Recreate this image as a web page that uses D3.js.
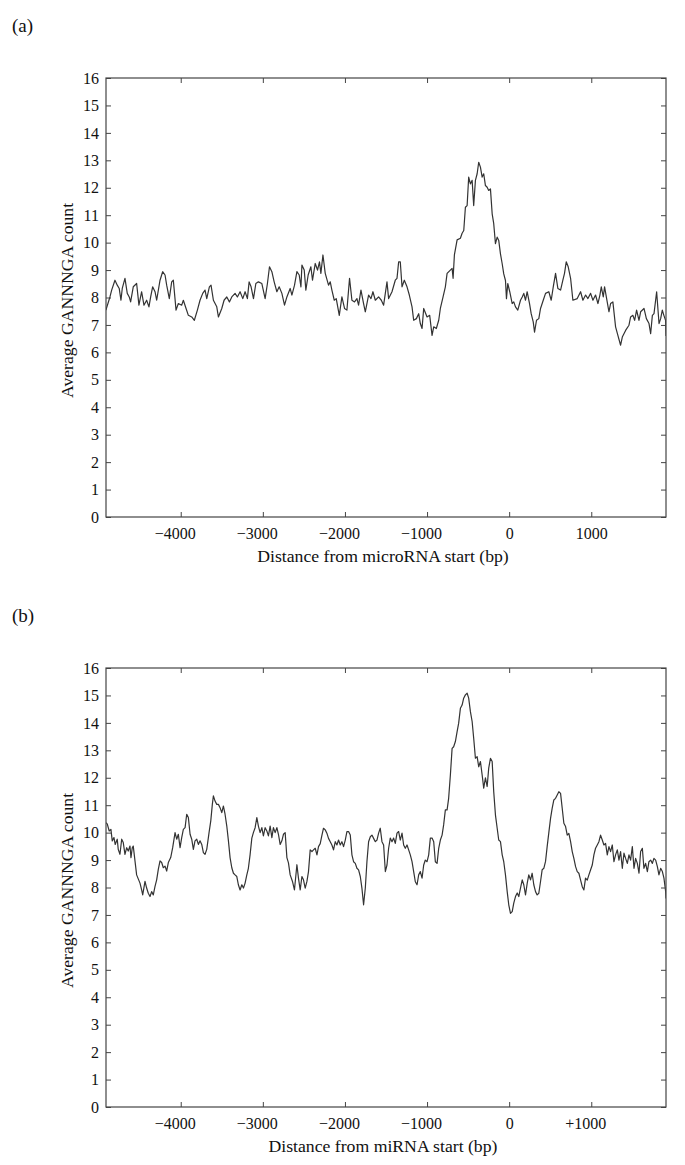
<!DOCTYPE html>
<html><head><meta charset="utf-8">
<script src="https://cdn.jsdelivr.net/npm/d3@7"></script>
<style>
html,body{margin:0;padding:0;background:#fff;}
svg text{font-family:"Liberation Serif","Times New Roman",serif;fill:#111;}
</style></head>
<body>
<svg id="chart" width="685" height="1165"></svg>
<script>
// ---------- data ----------
const xTickValues = [-4000, -3000, -2000, -1000, 0, 1000];
const xTickLabelsA = ["\u22124000", "\u22123000", "\u22122000", "\u22121000", "0", "1000"];
const xTickLabelsB = ["\u22124000", "\u22123000", "\u22122000", "\u22121000", "0", "+1000"];
const yTickValues = [0,1,2,3,4,5,6,7,8,9,10,11,12,13,14,15,16];

const posA = [-4911,-4862,-4841,-4801,-4773,-4749,-4728,-4712,-4679,-4651,-4627,-4610,-4578,-4537,-4509,-4476,-4448,-4415,-4387,-4366,-4342,-4313,-4293,-4252,-4220,-4191,-4171,-4139,-4110,-4090,-4057,-4029,-3988,-3968,-3935,-3907,-3866,-3834,-3797,-3765,-3732,-3704,-3683,-3651,-3631,-3602,-3561,-3541,-3500,-3472,-3439,-3407,-3378,-3338,-3310,-3277,-3244,-3216,-3188,-3167,-3143,-3114,-3085,-3054,-3012,-2972,-2944,-2919,-2890,-2862,-2829,-2801,-2768,-2736,-2707,-2667,-2646,-2614,-2585,-2557,-2536,-2524,-2496,-2476,-2448,-2415,-2395,-2362,-2334,-2310,-2293,-2268,-2240,-2200,-2179,-2159,-2130,-2106,-2069,-2037,-2005,-1976,-1944,-1915,-1883,-1854,-1834,-1805,-1773,-1752,-1712,-1683,-1659,-1630,-1590,-1557,-1529,-1488,-1468,-1427,-1387,-1366,-1346,-1326,-1305,-1277,-1244,-1216,-1183,-1163,-1130,-1102,-1082,-1061,-1041,-1000,-968,-939,-919,-887,-858,-838,-805,-777,-756,-716,-695,-683,-667,-634,-594,-573,-553,-533,-512,-493,-472,-451,-432,-411,-390,-371,-350,-329,-310,-289,-268,-249,-228,-207,-188,-167,-146,-127,-106,-85,-66,-45,-33,-17,7,37,56,77,105,138,159,178,199,219,248,268,293,309,333,361,382,415,443,483,512,537,565,593,626,654,674,695,719,748,776,829,870,898,931,959,992,1020,1052,1081,1105,1122,1146,1162,1187,1215,1235,1263,1296,1324,1357,1378,1418,1459,1479,1507,1528,1552,1581,1601,1642,1671,1703,1723,1744,1764,1796,1825,1845,1865,1884,1905,1910];
const valA = [7.54,8.02,8.27,8.63,8.45,8.33,7.90,8.33,8.70,8.15,8.02,7.84,8.39,8.51,7.72,8.21,7.72,7.90,7.66,8.02,8.39,8.21,7.90,8.63,8.94,8.82,8.45,7.96,8.57,8.63,7.54,7.78,7.72,7.90,7.60,7.35,7.29,7.17,7.54,7.90,8.15,8.27,7.96,8.39,8.45,7.90,7.66,7.29,7.60,7.90,8.02,7.84,8.02,8.15,8.02,8.21,7.96,8.21,7.96,8.57,8.39,7.96,8.51,8.57,8.51,7.96,8.51,9.12,8.94,8.57,8.21,8.39,8.15,7.72,8.02,8.33,8.09,8.45,8.94,8.82,8.39,9.18,9.00,8.27,8.82,9.12,8.63,9.24,9.00,9.30,8.88,9.55,8.88,8.45,8.57,8.27,7.90,7.96,7.35,8.02,7.60,7.54,8.70,7.90,7.84,7.96,7.72,8.27,7.78,7.48,8.09,7.96,8.21,7.90,8.02,7.90,7.72,8.57,7.96,8.21,8.63,8.70,9.30,9.30,8.39,8.63,8.39,8.09,7.66,7.17,7.23,7.41,7.05,6.87,7.60,7.29,7.35,6.62,6.93,6.87,7.17,7.60,8.02,8.39,8.88,9.00,9.06,8.70,9.55,10.10,10.16,10.34,10.44,11.29,11.35,12.39,12.14,12.27,11.35,12.27,12.51,12.93,12.75,12.39,12.51,12.08,12.02,11.90,11.96,11.05,10.69,9.96,10.20,10.08,9.59,9.23,8.86,8.62,7.96,8.51,8.21,7.78,7.84,7.66,7.54,7.90,8.02,8.15,7.90,8.21,7.78,7.41,7.11,6.74,7.17,7.23,7.60,7.90,8.15,8.21,7.90,8.39,8.88,8.33,8.27,8.63,8.88,9.30,9.12,8.70,7.90,7.96,8.21,7.90,8.09,7.96,8.15,7.90,8.09,7.78,8.09,8.39,8.02,8.39,7.96,7.48,7.78,7.84,6.93,6.62,6.26,6.56,6.80,6.99,7.29,7.35,7.17,7.54,7.17,7.48,7.60,7.23,7.05,6.68,7.35,7.41,8.21,7.05,7.23,7.54,7.35,7.17,6.60];

const posB = [-4911,-4895,-4871,-4850,-4834,-4813,-4798,-4773,-4761,-4740,-4719,-4700,-4679,-4658,-4639,-4618,-4606,-4590,-4578,-4557,-4537,-4496,-4476,-4463,-4435,-4415,-4395,-4374,-4354,-4334,-4313,-4293,-4273,-4252,-4232,-4212,-4191,-4171,-4151,-4122,-4098,-4069,-4049,-4029,-4008,-3988,-3968,-3947,-3927,-3907,-3886,-3866,-3846,-3826,-3805,-3785,-3765,-3744,-3724,-3704,-3683,-3655,-3634,-3615,-3602,-3582,-3561,-3541,-3521,-3500,-3480,-3460,-3439,-3419,-3399,-3378,-3358,-3338,-3317,-3298,-3277,-3256,-3236,-3216,-3195,-3176,-3155,-3134,-3115,-3094,-3073,-3054,-3033,-3012,-2993,-2972,-2951,-2932,-2911,-2890,-2871,-2850,-2829,-2810,-2789,-2768,-2749,-2728,-2707,-2688,-2667,-2639,-2615,-2585,-2566,-2545,-2524,-2505,-2484,-2463,-2444,-2423,-2402,-2383,-2362,-2341,-2322,-2301,-2280,-2261,-2240,-2220,-2200,-2179,-2159,-2139,-2118,-2098,-2078,-2057,-2037,-2017,-1996,-1976,-1956,-1935,-1915,-1895,-1874,-1854,-1834,-1813,-1793,-1773,-1752,-1732,-1712,-1691,-1671,-1651,-1630,-1610,-1590,-1570,-1549,-1529,-1508,-1488,-1468,-1448,-1427,-1407,-1387,-1366,-1346,-1326,-1305,-1285,-1265,-1244,-1224,-1204,-1183,-1163,-1143,-1122,-1102,-1082,-1061,-1041,-1021,-1000,-980,-960,-939,-919,-899,-878,-858,-838,-817,-798,-777,-756,-737,-716,-695,-676,-655,-634,-615,-594,-573,-554,-533,-512,-493,-472,-451,-432,-411,-390,-371,-350,-329,-310,-289,-268,-249,-228,-207,-188,-167,-146,-127,-106,-85,-66,-45,-24,-5,16,37,56,77,98,117,138,159,178,199,220,239,260,280,300,321,341,361,382,402,422,443,463,483,504,524,544,565,585,605,626,646,666,687,707,727,748,768,788,809,829,849,870,890,910,930,951,971,991,1012,1032,1052,1073,1093,1113,1134,1154,1174,1195,1215,1235,1256,1276,1296,1317,1337,1357,1378,1398,1418,1439,1459,1479,1500,1520,1540,1561,1581,1601,1622,1641,1662,1683,1702,1723,1744,1763,1784,1805,1824,1845,1866,1885,1906,1910];
const valB = [10.36,10.32,10.06,10.12,9.70,9.82,9.57,9.76,9.39,9.21,9.76,9.64,9.21,9.45,9.33,9.51,9.09,9.45,9.51,8.97,8.46,8.16,7.91,7.73,8.22,7.98,7.79,7.67,7.85,7.73,8.04,8.28,8.66,8.97,8.91,8.72,8.78,8.60,8.91,9.09,9.45,10.00,9.76,9.94,9.45,9.82,10.12,10.18,10.67,10.55,9.94,9.76,9.39,9.70,9.76,9.57,9.70,9.57,9.27,9.21,9.39,10.00,10.43,11.03,11.34,11.15,11.03,11.03,10.91,10.73,10.97,10.67,10.24,9.70,9.09,8.72,8.52,8.46,8.40,8.10,7.91,8.10,7.98,8.16,8.46,8.70,9.20,9.80,10.00,10.18,10.55,10.24,10.00,10.18,9.88,10.18,10.06,9.88,10.24,9.82,10.18,10.00,10.18,9.94,9.57,9.70,9.94,10.00,9.09,8.90,8.46,8.22,7.91,8.83,8.34,7.91,8.40,8.28,7.98,8.22,8.58,9.37,9.31,9.37,9.43,9.19,9.49,9.60,9.91,10.16,10.10,9.98,9.79,9.67,9.55,9.37,9.67,9.55,9.73,9.55,9.67,9.49,9.73,10.04,10.04,9.91,9.19,8.94,8.88,8.70,8.64,8.40,7.97,7.37,7.98,8.95,9.67,9.85,9.91,9.79,9.67,9.73,9.98,10.16,9.67,9.55,8.58,8.82,9.43,9.80,9.67,9.80,9.61,9.98,10.04,9.73,9.98,9.55,9.43,9.55,9.37,9.19,8.94,8.58,8.21,8.10,8.46,8.58,8.34,8.82,9.00,8.94,9.19,9.80,9.80,9.67,8.94,8.88,9.43,9.73,9.91,10.28,10.83,10.83,11.25,12.10,13.07,13.13,13.32,13.68,13.99,14.53,14.65,14.90,15.02,15.08,14.90,14.41,14.05,13.44,12.71,12.77,12.40,12.59,12.10,11.62,12.00,11.68,12.35,12.71,12.59,11.49,10.64,10.16,9.73,9.67,9.19,8.94,8.46,7.85,7.37,7.06,7.12,7.43,7.67,7.80,7.67,7.98,8.28,8.10,7.73,8.16,8.46,8.28,8.52,8.10,7.85,7.73,7.79,8.22,8.65,8.70,8.95,9.50,10.00,10.52,10.89,11.19,11.25,11.37,11.49,11.43,10.89,10.34,10.22,9.91,9.97,9.67,9.31,9.06,8.76,8.58,8.52,8.27,8.03,7.91,8.34,8.27,8.46,8.64,8.82,9.19,9.43,9.55,9.67,9.91,9.73,9.55,9.61,9.19,9.49,9.31,9.55,8.94,9.19,9.37,9.00,9.31,8.70,9.25,9.06,8.88,9.19,9.00,9.49,8.70,9.06,8.88,8.52,9.31,9.43,8.70,8.88,8.58,8.94,9.00,8.88,9.06,9.00,8.76,8.46,8.70,8.58,8.34,7.85,7.60];

const panels = [
  {tag:"(a)", pos:posA, val:valA, xLabels:xTickLabelsA, xTitle:"Distance from microRNA start (bp)", yTitle:"Average GANNNGA count", top:78},
  {tag:"(b)", pos:posB, val:valB, xLabels:xTickLabelsB, xTitle:"Distance from miRNA start (bp)", yTitle:"Average GANNNGA count", top:668}
];

// ---------- drawing ----------
const svg = d3.select("#chart");
const L = 106, R = 666, H = 439;
const x = d3.scaleLinear().domain([-4910, 1910]).range([L, R]);

panels.forEach((p, i) => {
  const T = p.top, B = T + H;
  const y = d3.scaleLinear().domain([0, 16]).range([B, T]);
  const g = svg.append("g");

  g.append("text").attr("x", 12).attr("y", T - 46).attr("font-size", 19).text(p.tag);

  const clipId = "clip" + i;
  svg.append("clipPath").attr("id", clipId).append("rect")
    .attr("x", L).attr("y", T).attr("width", R - L).attr("height", H);

  const line = d3.line().x((d, j) => x(p.pos[j])).y(d => y(d));
  g.append("path").datum(p.val)
    .attr("clip-path", `url(#${clipId})`)
    .attr("d", line).attr("fill", "none")
    .attr("stroke", "#333").attr("stroke-width", 1.2).attr("stroke-linejoin", "round");

  const styleAxis = sel => {
    sel.select(".domain").remove();
    sel.selectAll(".tick line").attr("stroke", "#444").attr("stroke-width", 1);
    sel.selectAll(".tick text").attr("font-family", "'Liberation Serif', serif").attr("font-size", 16).attr("fill", "#111");
  };

  g.append("g").attr("transform", `translate(${L},0)`)
    .call(d3.axisLeft(y).tickValues(yTickValues).tickSize(-5).tickPadding(7).tickFormat(d3.format("d")))
    .call(styleAxis);
  g.append("g").attr("transform", `translate(${R},0)`)
    .call(d3.axisRight(y).tickValues(yTickValues).tickSize(-5).tickFormat(""))
    .call(styleAxis);
  const bx = g.append("g").attr("transform", `translate(0,${B})`)
    .call(d3.axisBottom(x).tickValues(xTickValues).tickSize(-5).tickPadding(11).tickFormat((d, j) => p.xLabels[j]))
    .call(styleAxis);
  bx.selectAll(".tick text").attr("dx", (d, j) => /^[\u2212+]/.test(p.xLabels[j]) ? -6 : 0);
  g.append("g").attr("transform", `translate(0,${T})`)
    .call(d3.axisTop(x).tickValues(xTickValues).tickSize(-5).tickFormat(""))
    .call(styleAxis);

  g.append("rect").attr("x", L).attr("y", T).attr("width", R - L).attr("height", H)
    .attr("fill", "none").attr("stroke", "#444").attr("stroke-width", 1.2);

  g.append("text").attr("x", 383).attr("y", B + 45)
    .attr("text-anchor", "middle").attr("font-size", 17.7).text(p.xTitle);

  g.append("text").attr("transform", `translate(73,${(T + B) / 2 + 3}) rotate(-90)`)
    .attr("text-anchor", "middle").attr("font-size", 17.7).text(p.yTitle);
});
</script>
</body></html>
